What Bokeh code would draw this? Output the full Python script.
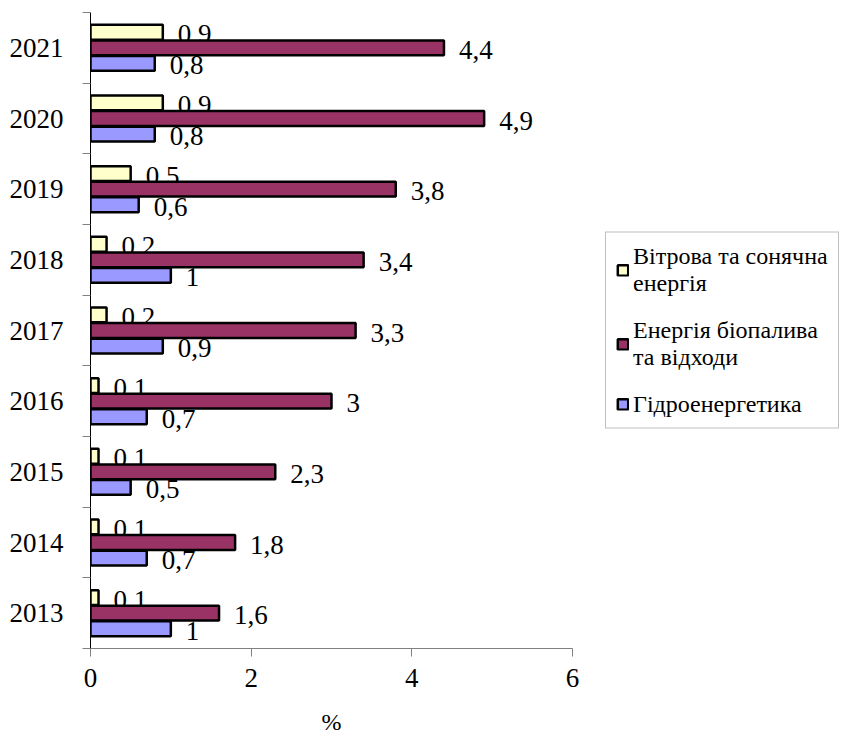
from bokeh.plotting import figure
from bokeh.models import FixedTicker, Range1d, Legend, LegendItem, ColumnDataSource
from bokeh.core.properties import value
from bokeh.embed import file_html
from bokeh.resources import INLINE

years = ["2013", "2014", "2015", "2016", "2017", "2018", "2019", "2020", "2021"]
wind = [0.1, 0.1, 0.1, 0.1, 0.2, 0.2, 0.5, 0.9, 0.9]
bio = [1.6, 1.8, 2.3, 3.0, 3.3, 3.4, 3.8, 4.9, 4.4]
hydro = [1.0, 0.7, 0.5, 0.7, 0.9, 1.0, 0.6, 0.8, 0.8]
series_names = ["Вітрова та сонячна\nенергія", "Енергія біопалива\nта відходи", "Гідроенергетика"]
colors = ["#FFFFCC", "#993366", "#9999FF"]
x_ticks = [0, 2, 4, 6]
x_label = "%"

FONT = "'Liberation Serif', 'Times New Roman', serif"

p = figure(frame_width=482, frame_height=636, output_backend="svg", toolbar_location=None,
           x_range=Range1d(0, 6), y_range=Range1d(0, len(years)),
           min_border_left=90, min_border_top=12, min_border_bottom=82, min_border_right=0)
p.outline_line_color = None
p.xgrid.visible = False
p.ygrid.visible = False

offsets = [0.22, 0.0, -0.22]
bar_h = 0.21
sources = []
for vals, off in zip([wind, bio, hydro], offsets):
    ys = [i + 0.5 + off for i in range(len(years))]
    src = ColumnDataSource(dict(y=ys, right=vals,
                                lab=[f"{v:g}".replace(".", ",") for v in vals]))
    sources.append(src)
    p.text(x="right", y="y", text="lab", source=src, x_offset=15, y_offset=2,
           text_font=value(FONT), text_font_size="27px", text_baseline="middle",
           text_align="left", text_color="black")

renderers = []
for src, col in zip(sources, colors):
    r = p.hbar(y="y", left=0, right="right", height=bar_h, source=src,
               fill_color=col, line_color="black", line_width=2.5)
    renderers.append(r)

# y axis
p.yaxis.ticker = FixedTicker(ticks=[i + 0.5 for i in range(len(years))],
                             minor_ticks=list(range(len(years) + 1)))
p.yaxis.major_label_overrides = {i + 0.5: y for i, y in enumerate(years)}
p.yaxis.major_tick_out = 0
p.yaxis.major_tick_in = 0
p.yaxis.minor_tick_out = 8
p.yaxis.minor_tick_in = 0
p.yaxis.minor_tick_line_color = "#808080"
p.yaxis.axis_line_color = "black"
p.yaxis.major_label_text_font = FONT
p.yaxis.major_label_text_font_size = "27px"
p.yaxis.major_label_standoff = 19
p.yaxis.major_label_text_color = "black"

# x axis
p.xaxis.ticker = FixedTicker(ticks=x_ticks, minor_ticks=[])
p.xaxis.major_tick_out = 8
p.xaxis.major_tick_in = 0
p.xaxis.major_tick_line_color = "#808080"
p.xaxis.axis_line_color = "#808080"
p.xaxis.major_label_text_font = FONT
p.xaxis.major_label_text_font_size = "27px"
p.xaxis.major_label_text_color = "black"
p.xaxis.major_label_standoff = 12
p.xaxis.axis_label = x_label
p.xaxis.axis_label_text_font = FONT
p.xaxis.axis_label_text_font_size = "24px"
p.xaxis.axis_label_text_font_style = "normal"
p.xaxis.axis_label_text_color = "black"
p.xaxis.axis_label_standoff = 19

legend = Legend(items=[LegendItem(label=n, renderers=[r]) for n, r in zip(series_names, renderers)],
                location="center_left")
legend.label_text_font = FONT
legend.label_text_font_size = "24px"
legend.label_text_color = "black"
legend.label_text_line_height = 1.2
legend.glyph_width = 13
legend.glyph_height = 13
legend.label_standoff = 4
legend.spacing = 20
legend.padding = 10
legend.margin = 33
legend.border_line_color = "#808080"
legend.border_line_width = 1
legend.background_fill_color = "white"
legend.background_fill_alpha = 1
p.add_layout(legend, "right")

open("out.html", "w").write(file_html(p, INLINE))
